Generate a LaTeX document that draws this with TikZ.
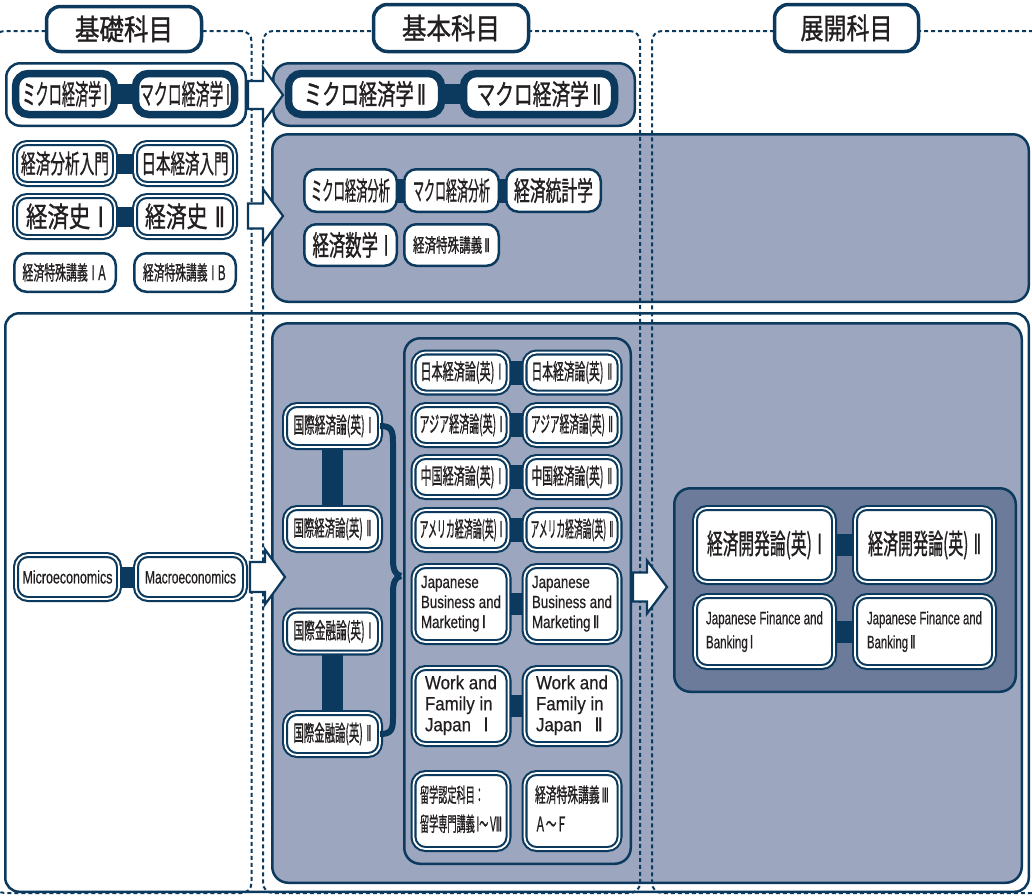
\documentclass[tikz,border=0pt]{standalone}
\usepackage{fontspec}
\usepackage{graphicx}
\setmainfont{Liberation Sans}[FakeBold=0.6]
\newfontfamily\jp{Noto Sans CJK JP}[FakeBold=1.2]
\newfontfamily\num{DejaVu Sans}[FakeBold=0.8]
\usetikzlibrary{calc}

\definecolor{navy}{RGB}{12,58,94}
\definecolor{panel}{RGB}{156,166,190}
\definecolor{paneldark}{RGB}{108,123,153}
\definecolor{ink}{RGB}{35,31,32}

% text set at a given size, squeezed horizontally to a given width (pt)
\newcommand{\fitx}[3]{\resizebox{#1pt}{\height}{\fontsize{#2}{#2}\selectfont #3}}
% several left-aligned lines: width, size, line skip, family, lines
\newcommand{\fitlines}[5]{\resizebox{#1pt}{\height}{\fontsize{#2}{#3}\selectfont #4\begin{tabular}{@{}l@{}}#5\end{tabular}}}
% roman numerals with serifs, preceded by a small gap
\newcommand{\rn}[1]{\hspace{0.18em}{\num #1}}
% block arrow: tail x, neck x, tip x, centre y, shaft half-height, head half-height
\newcommand{\blockarrow}[6]{\draw[blockarrow] (#1,#4-#5) -- (#2,#4-#5) -- (#2,#4-#6) -- (#3,#4) -- (#2,#4+#6) -- (#2,#4+#5) -- (#1,#4+#5) -- cycle;}

\pgfdeclarelayer{back}
\pgfdeclarelayer{mid}
\pgfsetlayers{back,mid,main}

\tikzset{
  every node/.style={inner sep=0pt, outer sep=0pt, text=ink, font=\jp},
  colframe/.style={rectangle, draw=navy, line width=2pt, dash pattern=on 4pt off 3pt, rounded corners=10pt},
  titlebox/.style={draw=navy, line width=3.5pt, fill=white, rounded corners=14pt},
  panelwhite/.style={draw=navy, line width=2.5pt, fill=white, rounded corners=14pt},
  panelblue/.style={draw=navy, line width=2.5pt, fill=panel, rounded corners=16pt},
  paneldeep/.style={draw=navy, line width=2.5pt, fill=paneldark, rounded corners=16pt},
  thickbox/.style={draw=navy, line width=7.5pt, fill=white, rounded corners=13pt},
  dblbox/.style={draw=navy, line width=2.1pt, double=white, double distance=1.8pt, fill=white, rounded corners=12pt},
  sglbox/.style={draw=navy, line width=2.5pt, fill=white, rounded corners=12pt},
  linkbar/.style={draw=navy, line width=#1},
  linkbar/.default=22pt,
  blockarrow/.style={draw=navy, line width=2.2pt, fill=white, line join=miter},
  bracepath/.style={draw=navy, line width=6pt},
}

\begin{document}
\begin{tikzpicture}[x=1pt, y=-1pt]
\useasboundingbox (0,0) rectangle (1032,895);

% ---------- panels ----------
\begin{pgfonlayer}{back}
  \node[panelwhite, minimum width=239.5, minimum height=62.5] (pA) at (126,94.5) {};
  \node[panelblue,  minimum width=361.5, minimum height=62.5] (pB) at (454,94.5) {};
  \node[panelblue,  minimum width=756.5, minimum height=167.5] (pC) at (650.5,218) {};
  \node[panelwhite, minimum width=1023.5, minimum height=578.5] (pD) at (517,602.5) {};
  \node[panelblue,  minimum width=749.5, minimum height=559.5] (pE) at (647,603) {};
  \node[panelblue,  minimum width=226.5, minimum height=525.5] (pF) at (517.5,601) {};
  \node[paneldeep,  minimum width=341.5, minimum height=203.5] (pG) at (845,590) {};
\end{pgfonlayer}

% ---------- column frames ----------
\node[colframe, minimum width=257, minimum height=862] (colA) at (123,462) {};
\node[colframe, minimum width=377, minimum height=862] (colB) at (451.5,462) {};
\node[colframe, minimum width=398, minimum height=862] (colC) at (851,462) {};

% ---------- column titles ----------
\node[titlebox, minimum width=155, minimum height=45] (tA) at (124,29) {\fitx{98}{29}{基礎科目}};
\node[titlebox, minimum width=155, minimum height=47] (tB) at (451,28) {\fitx{98}{29}{基本科目}};
\node[titlebox, minimum width=144, minimum height=47] (tC) at (846.5,28) {\fitx{92}{29}{展開科目}};

% ---------- first row ----------
\node[thickbox, minimum width=99, minimum height=41] (mi1) at (65,94) {\fitx{85}{28}{ミクロ経済学\rn{Ⅰ}}};
\node[thickbox, minimum width=99, minimum height=41] (ma1) at (185,94) {\fitx{90}{28}{マクロ経済学\rn{Ⅰ}}};
\node[thickbox, minimum width=153, minimum height=41] (mi2) at (365,94) {\fitx{122}{28}{ミクロ経済学\rn{Ⅱ}}};
\node[thickbox, minimum width=151, minimum height=41] (ma2) at (539,94) {\fitx{125}{28}{マクロ経済学\rn{Ⅱ}}};

% ---------- second row ----------
\node[dblbox, minimum width=100, minimum height=41] (en1) at (65,163.5) {\fitx{88}{26}{経済分析入門}};
\node[dblbox, minimum width=100, minimum height=41] (en2) at (185,163.5) {\fitx{87}{26}{日本経済入門}};
\node[dblbox, minimum width=100, minimum height=41] (hi1) at (65,216.5) {\fitx{78}{28}{経済史\,\rn{Ⅰ}}};
\node[dblbox, minimum width=100, minimum height=41] (hi2) at (185,216.5) {\fitx{80}{28}{経済史\,\rn{Ⅱ}}};
\node[sglbox, minimum width=101.5, minimum height=38.5] (sp1) at (65,272.5) {\fitx{85}{20}{経済特殊講義\,\rn{Ⅰ}\,Ａ}};
\node[sglbox, minimum width=101.5, minimum height=38.5] (sp2) at (185,272.5) {\fitx{84}{20}{経済特殊講義\,\rn{Ⅰ}\,Ｂ}};

\node[sglbox, minimum width=92.5, minimum height=42.5] (ra1) at (350.5,190.5) {\fitx{79}{26}{ミクロ経済分析}};
\node[sglbox, minimum width=94.5, minimum height=42.5] (ra2) at (451.5,190.5) {\fitx{77}{26}{マクロ経済分析}};
\node[sglbox, minimum width=94.5, minimum height=42.5] (ra3) at (553.5,190.5) {\fitx{79}{27}{経済統計学}};
\node[sglbox, minimum width=92.5, minimum height=41.5] (rb1) at (350.5,245) {\fitx{76}{28}{経済数学\,\rn{Ⅰ}}};
\node[sglbox, minimum width=94.5, minimum height=41.5] (rb2) at (451.5,245) {\fitx{77}{19}{経済特殊講義\rn{Ⅱ}}};

% ---------- third row ----------
\node[dblbox, minimum width=103, minimum height=44] (mc1) at (67.5,577) {\fitx{90}{18}{\rmfamily Microeconomics}};
\node[dblbox, minimum width=109, minimum height=44] (mc2) at (190.5,577) {\fitx{91}{18}{\rmfamily Macroeconomics}};

\node[dblbox, minimum width=95, minimum height=42] (kA) at (332.5,426) {\fitx{78}{22}{国際経済論(英)\,\rn{Ⅰ}}};
\node[dblbox, minimum width=95, minimum height=42] (kB) at (332.5,529) {\fitx{78}{22}{国際経済論(英)\,\rn{Ⅱ}}};
\node[dblbox, minimum width=95, minimum height=42] (fA) at (332.5,631.5) {\fitx{78}{22}{国際金融論(英)\,\rn{Ⅰ}}};
\node[dblbox, minimum width=95, minimum height=42] (fB) at (332.5,734) {\fitx{78}{22}{国際金融論(英)\,\rn{Ⅱ}}};

\node[dblbox, minimum width=95, minimum height=40] (jp1) at (461,372.5) {\fitx{81}{22}{日本経済論(英)\,\rn{Ⅰ}}};
\node[dblbox, minimum width=95, minimum height=40] (jp2) at (572,372.5) {\fitx{81}{22}{日本経済論(英)\,\rn{Ⅱ}}};
\node[dblbox, minimum width=95, minimum height=40] (as1) at (461,425) {\fitx{83}{22}{アジア経済論(英)\,\rn{Ⅰ}}};
\node[dblbox, minimum width=95, minimum height=40] (as2) at (572,425) {\fitx{82}{22}{アジア経済論(英)\,\rn{Ⅱ}}};
\node[dblbox, minimum width=95, minimum height=40] (cn1) at (461,477) {\fitx{81}{22}{中国経済論(英)\,\rn{Ⅰ}}};
\node[dblbox, minimum width=95, minimum height=40] (cn2) at (572,477) {\fitx{81}{22}{中国経済論(英)\,\rn{Ⅱ}}};
\node[dblbox, minimum width=95, minimum height=40] (am1) at (461,530) {\fitx{83}{22}{アメリカ経済論(英)\,\rn{Ⅰ}}};
\node[dblbox, minimum width=95, minimum height=40] (am2) at (572,530) {\fitx{83}{22}{アメリカ経済論(英)\,\rn{Ⅱ}}};

\node[dblbox, minimum width=95, minimum height=76] (jb1) at (461,604) {\fitlines{80}{17.5}{20}{\rmfamily}{Japanese\\Business and\\Marketing\rn{Ⅰ}}};
\node[dblbox, minimum width=95, minimum height=76] (jb2) at (572,604) {\fitlines{80}{17.5}{20}{\rmfamily}{Japanese\\Business and\\Marketing\rn{Ⅱ}}};
\node[dblbox, minimum width=95, minimum height=76] (wf1) at (461,706) {\fitlines{72}{19}{21}{\rmfamily}{Work and\\Family in\\Japan\ \ \rn{Ⅰ}}};
\node[dblbox, minimum width=95, minimum height=76] (wf2) at (572,706) {\fitlines{72}{19}{21}{\rmfamily}{Work and\\Family in\\Japan\ \ \rn{Ⅱ}}};
\node[dblbox, minimum width=95, minimum height=76] (ry1) at (461,811) {\fitlines{82}{20}{29}{}{留学認定科目：\\留学専門講義\rn{Ⅰ}～\rn{Ⅷ}}};
\node[dblbox, minimum width=95, minimum height=76] (ry2) at (572,811) {\fitlines{74}{20}{29}{}{経済特殊講義\rn{Ⅲ}\\Ａ～Ｆ}};

\node[dblbox, minimum width=139, minimum height=74] (dv1) at (764.5,545) {\fitx{115}{28}{経済開発論(英)\,\rn{Ⅰ}}};
\node[dblbox, minimum width=139, minimum height=74] (dv2) at (924.5,545) {\fitx{113}{28}{経済開発論(英)\,\rn{Ⅱ}}};
\node[dblbox, minimum width=139, minimum height=71] (jf1) at (764.5,631.5) {\fitlines{117}{18}{24}{\rmfamily}{Japanese Finance and\\Banking\rn{Ⅰ}}};
\node[dblbox, minimum width=139, minimum height=71] (jf2) at (924.5,631.5) {\fitlines{115}{18}{24}{\rmfamily}{Japanese Finance and\\Banking\rn{Ⅱ}}};

% ---------- links between paired courses ----------
\begin{pgfonlayer}{mid}
  \draw[linkbar=20pt] (mi1.center) -- (ma1.center);
  \draw[linkbar=20pt] (mi2.center) -- (ma2.center);
  \draw[linkbar=20pt] (en1.center) -- (en2.center);
  \draw[linkbar=20pt] (hi1.center) -- (hi2.center);
  \draw[linkbar=24pt] (ra1.center) -- (ra2.center) -- (ra3.center);
  \draw[linkbar=21pt] (mc1.center) -- (mc2.center);
  \draw[linkbar=21pt] (kA.center) -- (kB.center);
  \draw[linkbar=21pt] (fA.center) -- (fB.center);
  \draw[linkbar=24pt] (jp1.center) -- (jp2.center);
  \draw[linkbar=24pt] (as1.center) -- (as2.center);
  \draw[linkbar=24pt] (cn1.center) -- (cn2.center);
  \draw[linkbar=24pt] (am1.center) -- (am2.center);
  \draw[linkbar] (jb1.center) -- (jb2.center);
  \draw[linkbar] (wf1.center) -- (wf2.center);
  \draw[linkbar] (dv1.center) -- (dv2.center);
  \draw[linkbar] (jf1.center) -- (jf2.center);
\end{pgfonlayer}

% ---------- brace gathering the international courses ----------
\coordinate (braceTip) at (401,576);
\draw[bracepath] (kA.east) .. controls (391,426) and (393,430) .. (393,442) -- (393,560) .. controls (393,569) and (395,575) .. (braceTip);
\draw[bracepath] (fB.east) .. controls (391,734) and (393,730) .. (393,718) -- (393,592) .. controls (393,583) and (395,577) .. (braceTip);

% ---------- progression arrows ----------
\blockarrow{248}{263}{283}{95}{14}{27.5}
\blockarrow{248}{263}{283}{216}{12.5}{27}
\blockarrow{250}{265}{285}{577}{15}{27.5}
\blockarrow{633}{647}{667}{587}{14.5}{26.5}

\end{tikzpicture}
\end{document}
